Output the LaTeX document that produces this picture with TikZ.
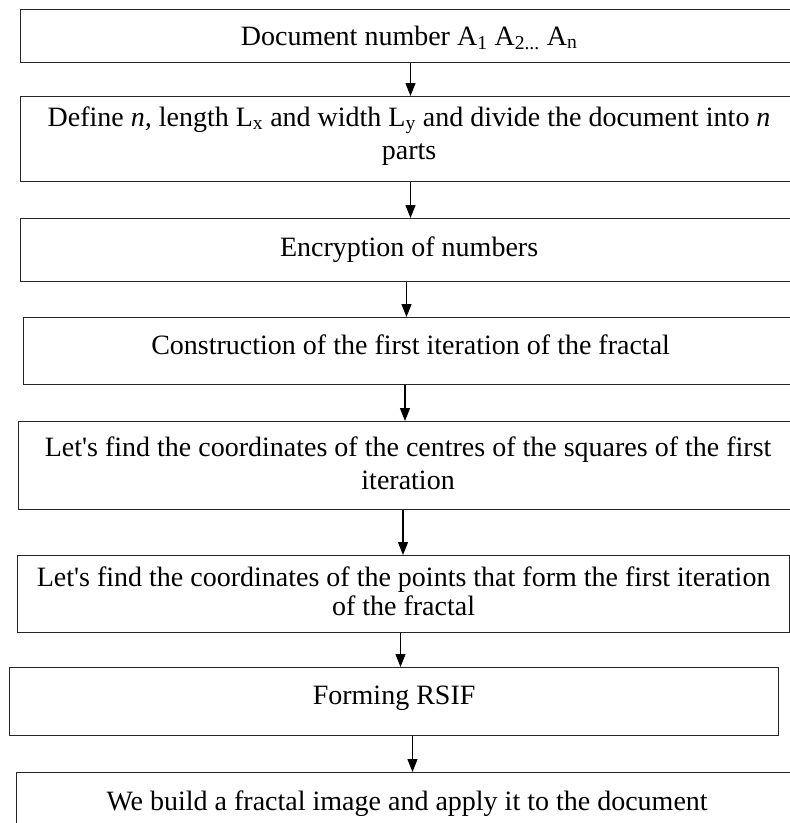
\documentclass[tikz,border=0pt]{standalone}
\usepackage{fontspec}
\setmainfont{Liberation Serif}
\usetikzlibrary{arrows.meta}
\begin{document}
\begin{tikzpicture}[x=1pt,y=-1pt,
  box/.style={draw=black!85, line width=1.2pt, inner sep=0pt, anchor=north west},
  txt/.style={font=\fontsize{28}{33}\selectfont, inner sep=0pt, anchor=base, text width=775pt, align=flush center},
  arr/.style={draw=black, line width=1.2pt, -{Triangle[length=13pt,width=10pt]}}]
\useasboundingbox (0,0) rectangle (790,823);
\clip (0,0) rectangle (790,823);
% boxes
\node[box, minimum width=777pt, minimum height=53pt] (b1) at (20,9) {};
\node[box, minimum width=777pt, minimum height=85pt] (b2) at (20,96) {};
\node[box, minimum width=777pt, minimum height=63pt] (b3) at (20,218) {};
\node[box, minimum width=774pt, minimum height=67pt] (b4) at (23,317) {};
\node[box, minimum width=779pt, minimum height=88pt] (b5) at (18,421) {};
\node[box, minimum width=772pt, minimum height=77pt] (b6) at (17,555) {};
\node[box, minimum width=769pt, minimum height=68pt] (b7) at (9,667) {};
\node[box, minimum width=781pt, minimum height=78pt] (b8) at (16,772) {};
% texts
\node[txt] (t1) at (b1.center |- 0,45) {Document number A\textsubscript{1} A\textsubscript{2...} A\textsubscript{n}};
\node[txt] (t2) at (b2.center |- 0,126) {Define \textit{n,} length L\textsubscript{x} and width L\textsubscript{y} and divide the document into \textit{n}\\parts};
\node[txt] (t3) at (b3.center |- 0,256) {Encryption of numbers};
\node[txt] (t4) at (b4.center |- 0,354) {Construction of the first iteration of the fractal};
\node[txt] (t5) at (b5.center |- 0,456) {Let\textquotesingle s find the coordinates of the centres of the squares of the first\\iteration};
\node[txt, font=\fontsize{28}{29}\selectfont] (t6) at (b6.center |- 0,586) {Let\textquotesingle s find the coordinates of the points that form the first iteration\\of the fractal};
\node[txt] (t7) at (b7.center |- 0,704) {Forming RSIF};
\node[txt] (t8) at (b8.center |- 0,810) {We build a fractal image and apply it to the document};
% arrows
\draw[arr] (b1.south -| 410.5,0) -- (b2.north -| 410.5,0);
\draw[arr] (b2.south -| 410.5,0) -- (b3.north -| 410.5,0);
\draw[arr] (b3.south -| 406.5,0) -- (b4.north -| 406.5,0);
\draw[arr] (b4.south -| 405,0) -- (b5.north -| 405,0);
\draw[arr] (b5.south -| 403,0) -- (b6.north -| 403,0);
\draw[arr] (b6.south -| 400.5,0) -- (b7.north -| 400.5,0);
\draw[arr] (b7.south -| 412.5,0) -- (b8.north -| 412.5,0);
\end{tikzpicture}
\end{document}
